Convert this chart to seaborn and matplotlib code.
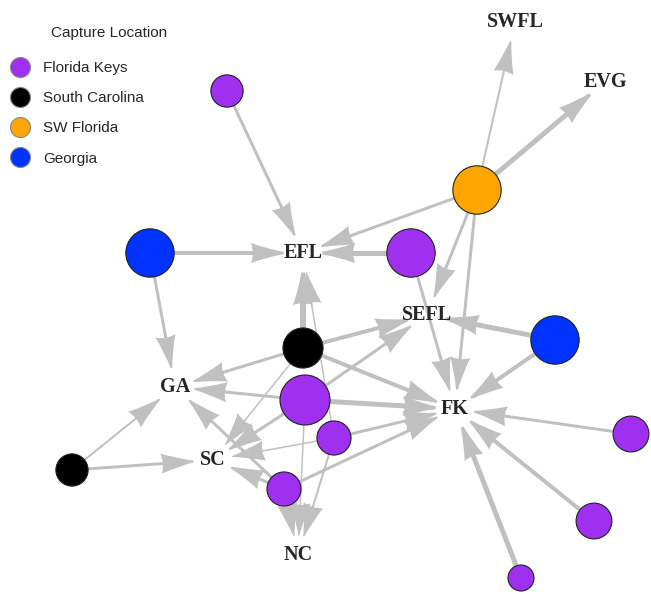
import numpy as np
import pandas as pd
import matplotlib.pyplot as plt
from matplotlib.lines import Line2D
from matplotlib.patches import ArrowStyle
from matplotlib.path import Path
import seaborn as sns

# individual sharks (circles) - layout position, capture group, detections
ind_names = ["F1", "SW1", "G1", "F2", "S1", "G2", "F3", "F4", "S2", "F5", "F6", "F7", "F8"]
ind_x = [227, 477, 150, 411, 303, 555, 305, 334, 72, 284, 631, 594, 521]
ind_y = [91, 190, 253, 253, 348, 340, 400, 438, 470, 489, 434, 521, 578]
ind_group = ["Florida Keys", "SW Florida", "Georgia", "Florida Keys", "South Carolina",
             "Georgia", "Florida Keys", "Florida Keys", "South Carolina", "Florida Keys",
             "Florida Keys", "Florida Keys", "Florida Keys"]
ind_detections = [26, 58, 58, 58, 40, 58, 62, 29, 26, 29, 32, 32, 17]

# receiver locations (text nodes)
loc_names = ["SWFL", "EVG", "EFL", "SEFL", "GA", "FK", "SC", "NC"]
loc_x = [515, 605, 303, 427, 175, 455, 213, 298]
loc_y = [22, 82, 253, 315, 387, 409, 460, 555]

# movements: individual -> location, with weight
edge_from = ["F1", "SW1", "SW1", "SW1", "SW1", "SW1", "G1", "G1", "F2", "F2",
             "S1", "S1", "S1", "S1", "S1", "G2", "G2", "F3", "F3", "F3", "F3", "F3",
             "F4", "F4", "F4", "F4", "S2", "S2", "F5", "F5", "F5", "F5", "F6", "F7", "F8"]
edge_to = ["EFL", "SWFL", "EVG", "EFL", "SEFL", "FK", "EFL", "GA", "EFL", "FK",
           "EFL", "GA", "SEFL", "FK", "SC", "SEFL", "FK", "GA", "SEFL", "FK", "SC", "NC",
           "SC", "FK", "NC", "EFL", "GA", "SC", "GA", "SC", "FK", "NC", "FK", "FK", "FK"]
edge_weight = [3, 2, 5, 3, 3, 3, 4, 3, 5, 3,
               6, 3, 4, 4, 1.5, 5, 4, 3, 3, 5, 3, 1.5,
               1.5, 3, 2, 1.5, 2, 3, 3, 3, 3, 2, 3, 4, 5]

groups = ["Florida Keys", "South Carolina", "SW Florida", "Georgia"]
palette = {"Florida Keys": "#A030F0", "South Carolina": "#000000",
           "SW Florida": "#FFA500", "Georgia": "#0033FF"}

nodes = pd.DataFrame({"name": ind_names, "x": ind_x, "y": ind_y,
                      "group": ind_group, "detections": ind_detections})
locs = pd.DataFrame({"name": loc_names, "x": loc_x, "y": loc_y})
edges = pd.DataFrame({"src": edge_from, "dst": edge_to, "w": edge_weight})

size_range = (350, 1296)
size_norm = (17, 62)


class FlaredHead(ArrowStyle._Base):
    """igraph-like arrow: straight tail + head with concave sides"""

    def __init__(self, head_length=2.0, head_width=1.3, tail_width=0.3):
        self.head_length = head_length
        self.head_width = head_width
        self.tail_width = tail_width
        super().__init__()

    def transmute(self, path, mutation_size, linewidth):
        x0, y0 = path.vertices[0]
        x1, y1 = path.vertices[-1]
        d = np.hypot(x1 - x0, y1 - y0)
        ux, uy = (x1 - x0) / d, (y1 - y0) / d
        px, py = -uy, ux
        L = self.head_length * mutation_size
        W = self.head_width * mutation_size / 2
        tw = self.tail_width * mutation_size / 2

        def pt(t, n):
            return (x1 - ux * t + px * n, y1 - uy * t + py * n)

        tail = Path([(x0 + px * tw, y0 + py * tw), pt(L * 0.8, tw), pt(L * 0.8, -tw),
                     (x0 - px * tw, y0 - py * tw), (x0, y0)],
                    [Path.MOVETO, Path.LINETO, Path.LINETO, Path.LINETO, Path.CLOSEPOLY])
        head = Path([pt(0, tw * 0.6), pt(L * 0.5, W * 0.4), pt(L, W),
                     pt(L * 0.88, 0), pt(L, -W), pt(L * 0.5, -W * 0.4),
                     pt(0, -tw * 0.6), pt(0, 0)],
                    [Path.MOVETO, Path.CURVE3, Path.CURVE3, Path.CURVE3, Path.CURVE3,
                     Path.CURVE3, Path.CURVE3, Path.CLOSEPOLY])
        return [tail, head], [True, True]


sns.set_style("white")

fig = plt.figure(figsize=(6.51, 5.94), dpi=100)
ax = fig.add_axes([0, 0, 1, 1])

pos = {r.name: (r.x, r.y) for r in nodes.itertuples()}
pos.update({r.name: (r.x, r.y) for r in locs.itertuples()})
det = dict(zip(nodes.name, nodes.detections))

# edges as arrows
for e in edges.itertuples():
    v = det[e.src]
    s = size_range[0] + (v - size_norm[0]) / (size_norm[1] - size_norm[0]) * (size_range[1] - size_range[0])
    r_pt = np.sqrt(s) / 2
    ax.annotate("", xy=pos[e.dst], xytext=pos[e.src],
                arrowprops=dict(arrowstyle=FlaredHead(2.35, 1.45, e.w * 0.072),
                                mutation_scale=10, fc="#C0C0C0", ec="none", lw=0,
                                shrinkA=r_pt, shrinkB=14),
                zorder=1)

# individuals
sns.scatterplot(data=nodes, x="x", y="y", hue="group", palette=palette,
                size="detections", sizes=size_range, size_norm=size_norm,
                edgecolor="#222222", linewidth=0.8, legend=False, ax=ax, zorder=3)

# location labels
for r in locs.itertuples():
    ax.text(r.x, r.y, r.name, ha="center", va="center", fontsize=14.5,
            fontweight="bold", family="Liberation Serif", zorder=4)

handles = [Line2D([], [], marker="o", linestyle="", markersize=14.4,
                  markerfacecolor=palette[g], markeredgecolor="#888888",
                  markeredgewidth=0.8, label=g) for g in groups]
ax.legend(handles=handles, loc="upper left",
          bbox_to_anchor=(10 / 651, 1 - 61 / 594), frameon=False,
          prop={"family": "Liberation Sans", "size": 11},
          labelspacing=1.06, handlelength=1.31, handletextpad=0.85,
          borderpad=0, borderaxespad=0)
ax.text(109, 33, "Capture Location", ha="center", va="center",
        fontsize=11, family="Liberation Sans")

ax.set_xlim(0, 651)
ax.set_ylim(594, 0)
ax.set_axis_off()

fig.savefig("out.png", dpi=100)
